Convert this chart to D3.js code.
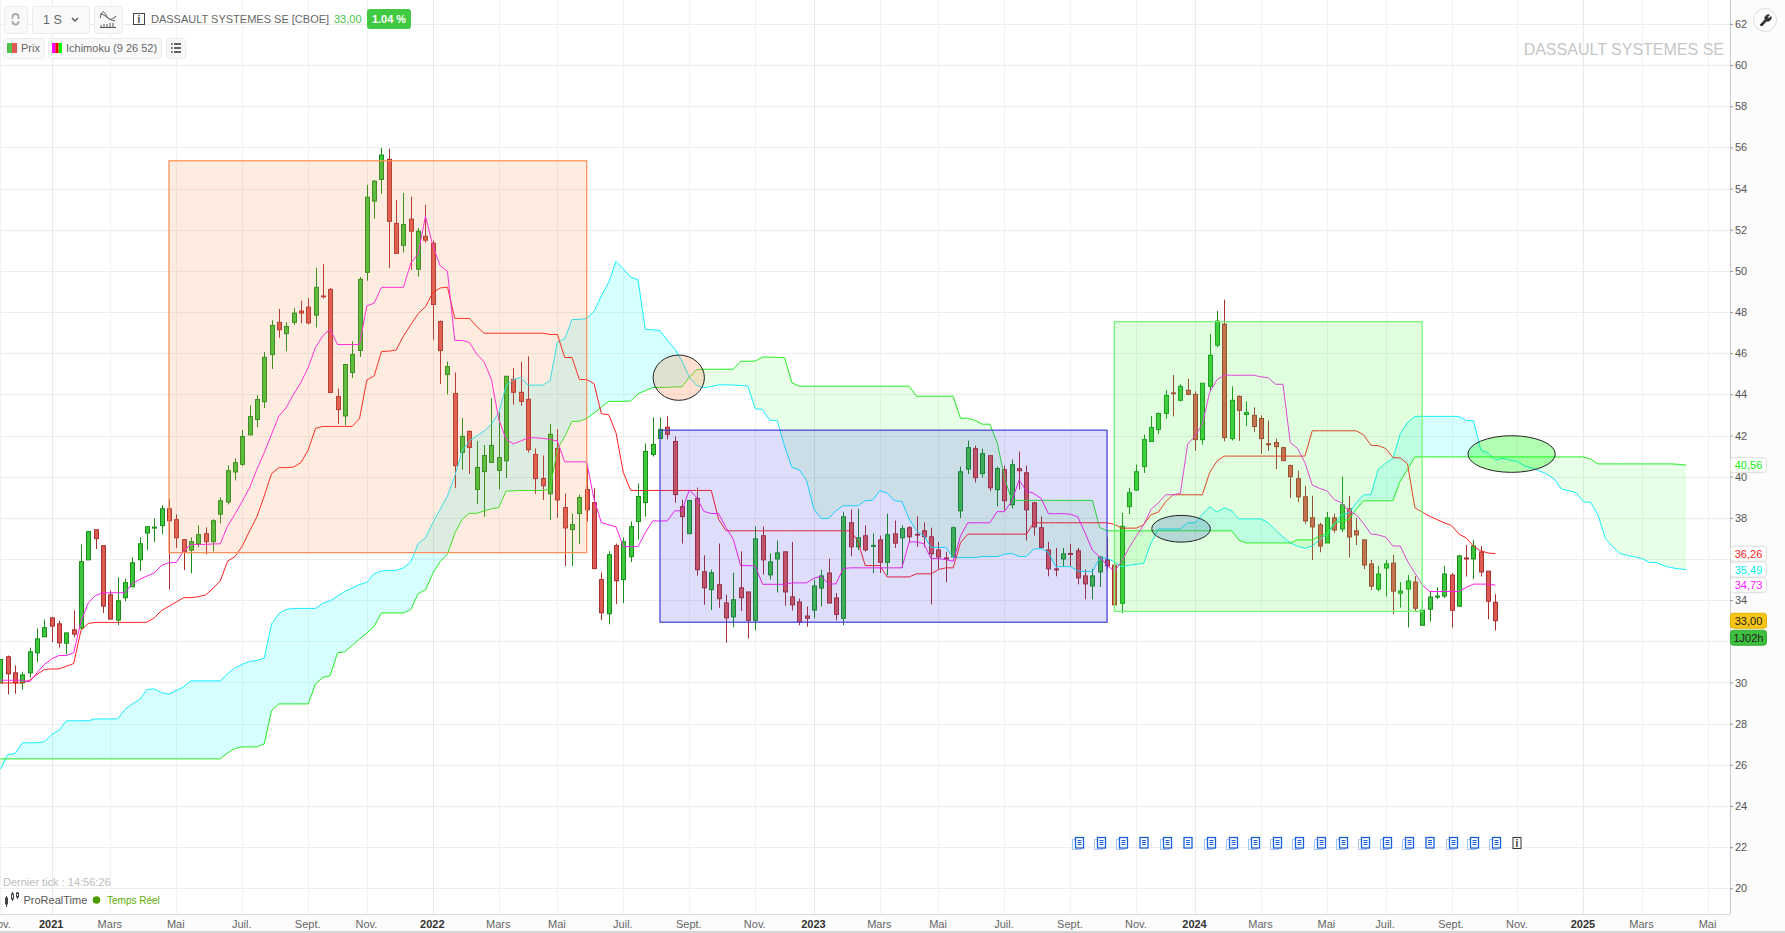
<!DOCTYPE html>
<html lang="fr">
<head>
<meta charset="utf-8">
<title>DASSAULT SYSTEMES SE</title>
<script src="https://cdn.jsdelivr.net/npm/d3@7"></script>
<style>
  html, body { margin: 0; padding: 0; background: #fff; overflow: hidden; }
  svg text { font-family: "Liberation Sans", Arial, sans-serif; }
</style>
</head>
<body>
<svg id="chart" width="1785" height="933"></svg>
<script>
// Weekly candles, first one is week -7 (week 0 = first week of 2021)
const firstWeek = -7;

const opens = [
  29.98,31.25,30.47,29.98,30.47,31.44,32.22,33.14,32.85,31.91,
  32.56,32.64,35.96,37.42,36.65,34.26,33.03,34.12,34.65,35.96,
  37.26,37.5,37.62,38.44,37.91,36.94,36.43,36.73,37.23,36.84,
  38.18,38.77,40.23,40.6,42.03,42.78,43.64,45.93,47.5,46.95,
  47.5,48.05,48.24,47.85,48.78,49.1,43.89,42.95,45.06,46.13,
  49.93,53.39,54.44,55.42,52.31,51.24,52.51,50.08,51.68,51.34,
  47.54,44.96,44.04,41.18,42.2,39.38,40.25,40.69,40.3,40.77,
  44.73,44.1,43.76,41.08,39.91,39.17,41.37,38.5,37.43,38.21,
  39.38,38.74,35.0,33.34,36.65,35.0,36.11,37.82,38.74,41.08,
  41.86,42.4,41.71,38.55,37.23,38.94,35.38,34.51,34.75,33.87,
  33.19,34.6,34.4,33.02,37.13,35.23,36.0,36.35,34.16,33.91,
  33.23,33.52,34.59,35.32,34.11,33.12,37.76,36.59,37.13,36.62,
  36.93,35.84,37.22,37.03,37.52,37.2,37.37,37.08,36.44,36.05,
  36.1,38.34,40.37,41.36,40.15,41.02,39.37,40.34,38.64,40.39,
  40.19,38.73,37.52,36.44,35.52,36.0,36.27,36.4,35.18,34.69,
  35.37,35.96,35.7,33.85,38.54,39.35,40.49,41.71,42.29,43.07,
  44.07,43.71,44.2,44.0,41.8,44.39,46.39,47.41,41.85,43.9,
  43.02,42.98,42.83,41.6,41.66,41.41,40.54,39.9,39.02,38.0,
  37.66,36.78,38.0,37.46,38.44,37.37,36.93,35.76,34.54,35.56,
  35.8,34.34,34.54,34.88,32.78,33.56,34.15,34.2,35.22,33.71,
  36.05,36.0,36.34,35.41,33.9
];
const closes = [
  31.12,30.42,29.98,30.37,31.49,32.12,32.66,32.74,31.93,32.41,
  32.35,35.87,37.33,36.99,33.71,33.08,33.97,34.85,35.82,36.74,
  37.57,37.55,38.44,37.86,37.03,36.34,36.84,37.18,36.84,37.86,
  38.83,40.29,40.68,41.95,42.92,43.75,45.8,47.35,47.14,47.3,
  47.95,47.95,47.47,49.2,48.74,44.09,43.26,45.45,45.94,49.59,
  53.58,54.36,55.63,52.41,50.85,52.25,51.93,51.93,51.49,48.37,
  46.13,45.35,40.53,41.96,41.42,40.45,41.03,41.52,40.93,44.88,
  44.1,43.66,41.31,39.91,39.56,42.06,38.87,37.51,37.67,38.99,
  38.39,35.53,33.39,36.21,34.94,36.84,37.57,39.04,41.23,41.57,
  42.3,42.06,39.13,38.06,38.84,35.48,34.6,35.33,34.07,33.14,
  34.02,34.12,33.02,36.98,35.96,35.86,36.3,34.4,33.77,32.94,
  33.12,34.69,35.18,33.86,33.31,38.05,36.59,37.03,36.44,36.66,
  35.84,37.18,36.77,37.47,37.08,37.16,37.08,36.25,36.1,36.0,
  37.52,40.24,41.41,39.95,41.12,39.46,40.39,38.83,40.58,40.29,
  38.39,37.56,36.57,35.52,35.47,36.25,36.22,35.08,34.79,35.18,
  36.1,35.67,33.77,37.59,39.22,40.24,41.8,42.39,43.07,43.95,
  44.03,44.39,44.0,41.8,44.54,45.9,47.56,41.9,43.71,43.22,
  43.12,42.44,41.85,41.55,41.46,40.78,40.0,39.02,37.85,37.56,
  36.63,38.0,37.41,38.63,37.07,37.17,35.71,34.68,35.27,35.76,
  34.44,34.44,34.93,33.61,33.51,34.15,34.2,35.27,33.51,36.15,
  36.0,36.63,35.37,33.95,33.0
];
const highs = [
  31.12,31.31,30.83,30.52,31.69,32.63,33.06,33.19,33.0,32.41,
  33.5,36.71,37.37,37.42,36.65,34.47,35.11,35.04,36.08,37.05,
  37.57,37.97,38.61,38.9,38.17,36.94,37.05,37.63,37.54,37.93,
  38.99,40.55,40.89,42.27,43.47,43.96,46.06,47.6,48.15,47.5,
  48.19,48.55,48.68,50.15,50.33,49.17,44.28,45.45,46.58,49.7,
  54.18,54.41,55.98,55.94,53.45,53.79,53.6,52.09,53.21,51.47,
  47.59,45.59,45.07,42.85,42.25,41.73,41.54,43.81,43.13,44.88,
  45.29,45.58,45.85,41.37,41.03,42.56,42.31,39.18,38.22,39.13,
  40.45,39.44,35.35,36.37,36.75,37.04,37.83,39.67,41.62,42.88,
  42.88,42.93,41.96,38.89,38.84,39.47,36.18,35.48,36.75,34.26,
  35.33,36.37,34.4,37.58,37.58,36.27,36.9,36.35,36.83,34.08,
  33.69,35.0,35.47,36.02,34.35,38.3,38.41,38.44,37.63,37.24,
  37.14,38.2,37.87,37.63,37.6,38.07,37.78,37.52,36.83,36.35,
  37.58,40.49,41.75,41.51,41.36,41.02,40.49,40.54,40.83,41.22,
  40.54,38.78,38.07,36.83,36.54,36.54,36.74,36.54,35.49,35.52,
  36.1,37.08,35.81,38.24,39.46,40.59,42.05,42.94,43.12,44.2,
  44.94,44.49,44.75,44.15,44.54,46.93,48.05,48.6,44.39,43.95,
  43.66,43.37,42.98,42.73,41.85,41.45,40.59,40.29,39.56,39.07,
  37.76,38.29,38.21,40.0,39.07,38.0,36.93,35.95,35.66,35.95,
  36.2,34.88,35.22,35.17,33.95,34.44,34.63,35.66,35.32,36.2,
  36.68,36.93,36.63,35.41,34.29
];
const lows = [
  29.98,29.42,29.46,29.66,30.24,30.99,32.22,31.96,31.7,31.36,
  32.19,32.58,35.96,36.48,33.37,33.08,32.79,33.95,34.65,35.41,
  36.43,36.82,37.2,34.52,36.53,35.46,35.3,36.57,36.22,36.37,
  37.73,38.65,39.82,40.52,42.03,42.4,43.34,45.23,46.75,46.1,
  47.37,47.45,47.4,47.25,48.66,44.09,42.56,42.49,44.8,45.82,
  49.52,52.54,53.74,50.14,50.85,50.9,50.04,49.72,51.37,46.65,
  44.5,44.0,39.46,40.33,40.14,38.68,38.05,40.69,39.39,39.93,
  43.5,43.45,41.18,39.17,38.87,37.9,38.0,35.66,35.66,36.73,
  37.83,35.53,33.03,32.83,33.81,33.86,35.85,36.93,38.05,40.98,
  41.86,41.81,38.73,36.75,37.23,35.19,33.78,33.52,33.63,31.93,
  32.69,33.47,32.14,32.53,35.24,35.0,34.38,33.73,33.5,32.78,
  32.71,33.12,33.7,33.86,33.02,32.78,36.14,36.43,36.36,35.31,
  35.32,35.21,36.54,35.57,36.79,36.59,36.57,33.8,35.52,34.87,
  36.05,37.99,40.13,39.72,39.95,39.3,38.56,38.36,38.46,39.38,
  36.9,37.14,36.54,35.16,35.16,35.62,35.62,34.77,34.04,34.04,
  34.64,35.45,33.77,33.37,38.18,39.3,40.18,41.71,42.08,42.81,
  42.93,43.66,43.95,41.25,41.56,44.15,46.29,41.72,41.76,41.74,
  42.47,42.16,41.11,41.25,40.37,40.78,38.96,38.76,37.72,35.95,
  36.33,36.78,37.27,37.32,36.08,36.68,35.51,34.49,34.44,34.18,
  33.32,33.64,32.68,33.46,32.78,32.96,34.05,34.1,32.67,33.66,
  35.15,35.02,35.15,33.07,32.52
];

// Ichimoku (9 26 52), same weeks as the candles
const tenkan = [
  30.11,30.11,30.11,30.11,30.03,30.47,30.88,31.15,31.31,31.31,
  31.44,32.98,33.87,34.23,34.36,34.36,34.36,34.36,34.81,35.01,
  35.17,35.33,35.69,35.82,35.83,36.39,36.71,36.71,36.71,36.73,
  36.74,37.6,38.17,38.81,39.46,40.36,41.17,42.06,42.95,43.36,
  44.0,44.58,45.31,46.28,46.85,47.17,46.42,46.42,46.42,46.42,
  48.3,48.43,49.2,49.2,49.2,49.2,50.38,50.82,52.66,51.23,
  50.25,49.98,46.62,46.62,46.52,45.95,45.58,44.73,42.79,41.81,
  41.6,41.73,41.89,41.89,41.86,41.81,41.73,40.72,40.72,40.72,
  40.72,38.9,37.77,37.66,37.56,36.6,36.6,36.6,37.28,37.85,
  37.85,37.85,38.34,38.34,39.36,38.99,38.31,38.21,38.21,37.53,
  36.96,35.68,35.68,35.66,34.77,34.77,34.77,34.77,34.84,34.84,
  34.84,35.07,35.16,34.79,34.79,35.54,35.57,35.57,35.57,35.57,
  35.57,35.57,35.57,35.57,36.83,36.83,36.74,36.02,36.02,35.97,
  35.89,37.11,37.76,37.76,37.76,37.76,38.3,38.3,38.81,39.84,
  39.3,39.19,38.94,38.2,38.2,38.2,38.18,38.05,37.27,36.43,
  36.1,35.7,35.4,35.89,36.54,37.11,37.67,38.41,38.73,39.12,
  39.12,39.19,41.58,41.98,42.55,44.1,44.72,44.93,44.93,44.93,
  44.93,44.93,44.85,44.81,44.49,44.49,41.66,41.37,40.68,39.59,
  39.43,39.32,38.89,38.73,38.32,38.16,37.72,37.22,37.17,37.07,
  36.63,36.63,35.89,35.32,34.75,34.42,34.42,34.42,34.42,34.42,
  34.62,34.78,34.78,34.78,34.73
];
const kijun = [
  29.98,29.98,29.98,29.98,30.11,30.39,30.63,30.66,30.66,30.79,
  30.92,32.54,32.87,32.92,32.92,32.92,32.92,32.92,32.92,32.92,
  32.93,33.14,33.5,33.71,33.91,34.12,34.12,34.17,34.25,34.57,
  34.93,35.9,36.11,36.63,37.36,38.05,39.06,40.15,40.44,40.44,
  40.47,40.68,41.3,42.35,42.44,42.44,42.44,42.44,42.44,42.82,
  44.7,44.9,46.08,46.1,46.15,46.84,47.38,47.92,48.26,48.95,
  49.17,49.21,47.69,47.69,47.69,47.3,46.97,46.97,46.97,46.97,
  46.97,46.97,46.97,46.97,46.97,46.91,46.91,45.79,45.79,44.72,
  44.72,44.52,43.06,43.01,42.13,40.2,39.33,39.33,39.33,39.33,
  39.33,39.33,39.33,39.33,39.33,39.33,39.33,39.33,37.93,37.37,
  37.37,37.37,37.37,37.37,37.37,37.37,37.37,37.37,37.37,37.37,
  37.37,37.37,37.37,37.37,37.37,37.37,37.37,36.87,35.68,35.68,
  35.68,35.13,35.13,35.13,35.13,35.28,35.28,35.28,35.49,35.57,
  35.57,36.79,37.21,37.21,37.21,37.21,37.21,37.21,37.21,37.21,
  37.21,37.76,37.76,37.76,37.76,37.76,37.76,37.76,37.76,37.76,
  37.76,37.76,37.68,37.5,37.5,37.5,37.67,38.15,38.28,38.78,
  39.12,39.12,39.12,39.12,39.12,40.2,40.76,41.0,41.0,41.0,
  41.0,41.0,41.0,41.0,41.0,41.0,41.0,41.0,41.0,42.23,
  42.23,42.23,42.23,42.23,42.23,42.23,42.03,41.53,41.51,41.37,
  40.93,40.91,40.62,38.49,38.28,38.08,37.92,37.76,37.63,37.22,
  37.02,36.62,36.4,36.29,36.26
];
// Cloud runs 26 weeks past the last candle
const senkouA = [
  25.8,26.5,26.55,27.07,27.07,27.07,27.12,27.47,27.68,28.14,
  28.14,28.14,28.14,28.23,28.23,28.23,28.23,28.69,28.96,29.17,
  29.66,29.69,29.5,29.43,29.61,29.79,30.08,30.08,30.08,30.08,
  30.08,30.42,30.71,30.88,31.02,31.07,31.18,32.84,33.35,33.55,
  33.6,33.6,33.6,33.6,33.85,33.97,34.2,34.43,34.59,34.76,
  34.87,35.29,35.42,35.44,35.45,35.57,35.86,36.75,37.03,37.76,
  38.41,39.06,40.03,41.25,41.74,41.98,42.22,42.55,43.12,44.42,
  44.71,44.82,44.45,44.45,44.45,44.66,46.55,46.7,47.64,47.64,
  47.69,48.03,48.79,49.44,50.46,50.09,49.69,49.57,47.15,47.14,
  47.1,46.62,46.22,45.62,44.84,44.43,44.32,44.38,44.46,44.46,
  44.45,44.43,44.4,43.3,43.26,42.74,42.73,41.48,40.45,40.34,
  39.81,38.43,37.97,37.97,38.34,38.59,38.59,38.59,38.83,38.85,
  39.32,39.2,38.83,38.8,37.94,37.37,37.13,36.56,36.56,36.56,
  36.07,36.07,36.07,36.07,36.12,36.12,36.12,36.23,36.27,36.12,
  36.12,36.48,36.51,36.32,35.63,35.63,35.63,35.42,35.39,35.39,
  36.05,36.05,35.85,35.62,35.7,35.75,35.79,36.78,37.46,37.46,
  37.46,37.46,37.76,37.76,38.16,38.54,38.28,38.49,38.34,37.95,
  37.95,37.95,37.95,37.76,37.4,37.07,36.78,36.62,36.52,36.62,
  36.94,37.19,37.67,38.16,38.24,38.73,39.12,39.12,40.36,40.65,
  40.88,42.07,42.63,42.93,42.93,42.93,42.93,42.93,42.93,42.93,
  42.73,42.72,41.3,41.15,40.81,40.89,40.81,40.73,40.52,40.41,
  40.28,40.13,39.89,39.4,39.32,39.22,38.78,38.75,38.13,37.0,
  36.59,36.27,36.17,36.1,36.02,35.83,35.83,35.67,35.58,35.52,
  35.49
];
const senkouB = [
  26.29,26.29,26.29,26.29,26.29,26.29,26.29,26.29,26.29,26.29,
  26.29,26.29,26.29,26.29,26.29,26.29,26.29,26.29,26.29,26.29,
  26.29,26.29,26.29,26.29,26.29,26.29,26.29,26.29,26.29,26.29,
  26.29,26.58,26.79,26.87,26.87,26.87,27.02,28.64,28.96,28.96,
  28.96,28.96,28.96,29.93,30.24,30.34,31.44,31.5,31.8,32.11,
  32.4,32.73,33.38,33.38,33.38,33.38,33.54,34.32,34.5,35.3,
  35.88,36.23,37.25,37.93,38.22,38.22,38.33,38.44,38.5,39.3,
  39.31,39.33,39.33,39.33,39.33,39.39,41.34,41.95,42.69,42.69,
  42.83,43.09,43.37,43.66,43.66,43.66,43.68,44.02,44.18,44.33,
  44.34,44.34,44.36,44.36,44.83,45.2,45.22,45.22,45.22,45.22,
  45.22,45.6,45.61,45.62,45.81,45.81,45.8,45.78,44.56,44.4,
  44.4,44.4,44.4,44.4,44.4,44.4,44.4,44.4,44.4,44.4,
  44.4,44.4,44.4,44.4,44.4,43.91,43.91,43.91,43.91,43.91,
  43.91,42.84,42.84,42.73,42.55,42.55,41.67,39.97,38.85,38.85,
  38.85,38.85,38.85,38.85,38.85,38.85,38.85,38.85,38.85,38.85,
  37.53,37.37,37.37,37.37,37.37,37.37,37.37,37.37,37.37,37.37,
  37.37,37.37,37.37,37.37,37.37,37.37,37.37,37.37,37.37,36.91,
  36.78,36.78,36.78,36.78,36.78,36.78,36.78,36.93,36.93,36.93,
  37.11,37.22,37.76,37.84,37.92,38.41,38.83,38.83,38.83,38.83,
  38.83,39.79,40.36,40.96,40.96,40.96,40.96,40.96,40.96,40.96,
  40.96,40.96,40.96,40.96,40.96,40.96,40.96,40.96,40.96,40.96,
  40.96,40.96,40.96,40.96,40.96,40.96,40.96,40.86,40.62,40.62,
  40.62,40.62,40.62,40.62,40.62,40.62,40.62,40.62,40.62,40.6,
  40.56
];

// Time axis: week index and label of each tick
const xTickWeeks = [-7,0,8,17,26,35,43,52,61,69,78,87,96,104,113,121,130,139,148,156,165,174,182,191,200,209,217,226];
const xTickLabels = ["Nov.","2021","Mars","Mai","Juil.","Sept.","Nov.","2022","Mars","Mai","Juil.","Sept.","Nov.","2023","Mars","Mai","Juil.","Sept.","Nov.","2024","Mars","Mai","Juil.","Sept.","Nov.","2025","Mars","Mai"];
const yTicks = d3.range(20, 64, 2);
// these two prices sit behind the value tags
const yHiddenLabels = [32, 36];

// Drawn zones: week range and price range
const zoneWeeks = [[16,73],[83,144],[145,187]];
const zonePrices = [[36.31,55.35],[32.93,42.26],[33.45,47.53]];
const zoneFills = ["#ff8c50","#3c3ce0","#40ff40"];
const zoneStrokes = ["#ff8c50","#3c3cd8","#70f870"];
// Drawn ellipses: centre week, centre price, half width in weeks, half height in price
const ellipseCentres = [[85.56,44.81],[154.1,37.47],[199.2,41.1]];
const ellipseRadii = [[3.5,1.1],[4,0.65],[5.96,0.89]];
const ellipseFills = ["rgba(255,130,70,0.25)","rgba(50,90,190,0.24)","rgba(0,255,0,0.3)"];

// News markers
const newsWeeks = [140,143,146,149,152,155,158,161,164,167,170,173,176,179,182,185,188,191,194,197];
const newsSingle = [149,155,188];
const infoWeek = 200;

// Last value tags
const tagValues = [40.56,36.26,35.49,34.73];
const tagLabels = ["40,56","36,26","35,49","34,73"];
const tagColors = ["#10f010","#ff2020","#00f0f0","#ff20ff"];

const plotRight = 1730, plotBottom = 914;
const svg = d3.select("#chart");
const x = d3.scaleLinear().domain([0, 156]).range([51.7, 1195]);
const y = d3.scaleLinear().domain([20, 62]).range([888.3, 23.9]);

const weeks = opens.map((d, i) => i + firstWeek);
const cloudRows = senkouA.map((a, i) => ({ week: i + firstWeek, a, b: senkouB[i] }));

svg.append("defs").append("clipPath").attr("id", "plot-clip")
  .append("rect").attr("width", plotRight).attr("height", plotBottom);

// Grid
const grid = svg.append("g").attr("shape-rendering", "crispEdges");
grid.selectAll("line.h").data(yTicks).join("line")
  .attr("class", "h")
  .attr("x1", 0).attr("x2", plotRight)
  .attr("y1", d => Math.round(y(d)) + 0.5).attr("y2", d => Math.round(y(d)) + 0.5)
  .attr("stroke", "#ededed");
grid.selectAll("line.v").data(xTickWeeks).join("line")
  .attr("class", "v")
  .attr("y1", 0).attr("y2", plotBottom)
  .attr("x1", d => Math.round(x(d)) + 0.5).attr("x2", d => Math.round(x(d)) + 0.5)
  .attr("stroke", (d, i) => /^20/.test(xTickLabels[i]) ? "#e9e9e9" : "#f1f1f1");

const plot = svg.append("g").attr("clip-path", "url(#plot-clip)");

// Kumo
const cyanArea = d3.area().x(d => x(d.week)).y0(d => y(Math.min(d.a, d.b))).y1(d => y(d.a));
const greenArea = d3.area().x(d => x(d.week)).y0(d => y(Math.min(d.a, d.b))).y1(d => y(d.b));
plot.append("path").attr("d", cyanArea(cloudRows)).attr("fill", "rgba(0,255,255,0.16)");
plot.append("path").attr("d", greenArea(cloudRows)).attr("fill", "rgba(0,255,0,0.09)");

// Candles
const upColor = { fill: "#3fc63f", stroke: "#178f17" };
const downColor = { fill: "#dc5a52", stroke: "#a92f2f" };
const candleG = plot.selectAll("g.candle").data(weeks).join("g").attr("class", "candle");
candleG.append("line")
  .attr("x1", d => Math.round(x(d)) + 0.5).attr("x2", d => Math.round(x(d)) + 0.5)
  .attr("y1", (d, i) => y(highs[i])).attr("y2", (d, i) => y(lows[i]))
  .attr("stroke", (d, i) => closes[i] >= opens[i] ? upColor.stroke : downColor.stroke)
  .attr("stroke-width", 1);
candleG.append("rect")
  .attr("x", d => Math.round(x(d)) - 1.5).attr("width", 4)
  .attr("y", (d, i) => y(Math.max(opens[i], closes[i])))
  .attr("height", (d, i) => Math.max(0.6, Math.abs(y(opens[i]) - y(closes[i]))))
  .attr("fill", (d, i) => closes[i] >= opens[i] ? upColor.fill : downColor.fill)
  .attr("stroke", (d, i) => closes[i] >= opens[i] ? upColor.stroke : downColor.stroke)
  .attr("stroke-width", 1);

// Ichimoku lines
const drawLine = (values, color) => plot.append("path")
  .attr("d", d3.line().x((d, i) => x(i + firstWeek)).y(d => y(d))(values))
  .attr("fill", "none").attr("stroke", color).attr("stroke-width", 1);
drawLine(senkouA, "#14eeff");
drawLine(senkouB, "#22ee22");
drawLine(kijun, "#ff1f1f");
drawLine(tenkan, "#ff20f0");

// Zones sit over everything, candles show through
plot.selectAll("rect.zone").data(zoneWeeks).join("rect")
  .attr("class", "zone")
  .attr("x", d => x(d[0])).attr("width", d => x(d[1]) - x(d[0]))
  .attr("y", (d, i) => y(zonePrices[i][1]))
  .attr("height", (d, i) => y(zonePrices[i][0]) - y(zonePrices[i][1]))
  .attr("fill", (d, i) => zoneFills[i]).attr("fill-opacity", 0.17)
  .attr("stroke", (d, i) => zoneStrokes[i]).attr("stroke-width", 1.2);
plot.selectAll("ellipse").data(ellipseCentres).join("ellipse")
  .attr("cx", d => x(d[0])).attr("cy", d => y(d[1]))
  .attr("rx", (d, i) => x(ellipseRadii[i][0]) - x(0))
  .attr("ry", (d, i) => y(0) - y(ellipseRadii[i][1]))
  .attr("fill", (d, i) => ellipseFills[i])
  .attr("stroke", "#222").attr("stroke-width", 1);

// News markers
const news = svg.append("g").selectAll("g").data(newsWeeks).join("g")
  .attr("transform", d => `translate(${Math.round(x(d)) + (newsSingle.includes(d) ? -1.5 : 0)},843)`);
news.filter(d => !newsSingle.includes(d)).append("rect")
  .attr("x", -5.5).attr("y", -3.5).attr("width", 8).attr("height", 10)
  .attr("fill", "#fff").attr("stroke", "#a9c4f0");
news.append("rect")
  .attr("x", -2.5).attr("y", -5.5).attr("width", 8).attr("height", 10.5)
  .attr("fill", "#fff").attr("stroke", "#1a5fd8").attr("stroke-width", 1.3);
news.append("path").attr("d", "M-.5-2.500H3.500M-.5-.5H3.500M-.5 1.500H3.500")
  .attr("stroke", "#1a5fd8").attr("stroke-width", 1.1);
const info = svg.append("g").attr("transform", `translate(${Math.round(x(infoWeek))},843)`);
info.append("rect").attr("x", -4).attr("y", -5.5).attr("width", 8).attr("height", 11)
  .attr("fill", "#fff").attr("stroke", "#333");
info.append("text").attr("y", 4).attr("text-anchor", "middle")
  .attr("font-size", 10).attr("font-weight", "bold").attr("fill", "#333").text("i");

// Axis strips
svg.append("rect").attr("x", plotRight).attr("width", 1785 - plotRight).attr("height", 933).attr("fill", "#fcfcfc");
svg.append("rect").attr("y", plotBottom).attr("width", 1785).attr("height", 933 - plotBottom).attr("fill", "#fcfcfc");
svg.append("line").attr("x1", plotRight + 0.5).attr("x2", plotRight + 0.5).attr("y1", 0).attr("y2", plotBottom)
  .attr("stroke", "#c8c8c8");
svg.append("line").attr("x1", 0).attr("x2", plotRight).attr("y1", plotBottom + 0.5).attr("y2", plotBottom + 0.5)
  .attr("stroke", "#dcdcdc");
svg.append("rect").attr("y", 931).attr("width", 1785).attr("height", 2).attr("fill", "#d4d4d4");

const yAxis = d3.axisRight(y).tickValues(yTicks).tickSize(3).tickPadding(2)
  .tickFormat(d => yHiddenLabels.includes(d) ? "" : d3.format("d")(d));
const yAxisG = svg.append("g").attr("transform", `translate(${plotRight},0)`).call(yAxis);
yAxisG.select(".domain").remove();
yAxisG.selectAll("line").attr("stroke", "#999");
yAxisG.selectAll("text").attr("font-size", 11).attr("fill", "#555")
  .style("font-family", '"Liberation Sans", Arial, sans-serif');

const xAxis = d3.axisBottom(x).tickValues(xTickWeeks).tickSize(0).tickPadding(6)
  .tickFormat((d, i) => xTickLabels[i]);
const xAxisG = svg.append("g").attr("transform", `translate(-1,${plotBottom})`).call(xAxis);
xAxisG.select(".domain").remove();
xAxisG.selectAll("text").attr("font-size", 11)
  .attr("font-weight", (d, i) => /^20/.test(xTickLabels[i]) ? "bold" : "normal")
  .attr("fill", (d, i) => /^20/.test(xTickLabels[i]) ? "#333" : "#666")
  .style("font-family", '"Liberation Sans", Arial, sans-serif');

// Last value tags
const tags = svg.selectAll("g.tag").data(tagValues).join("g").attr("class", "tag")
  .attr("transform", d => `translate(${plotRight},${y(d)})`);
tags.append("rect").attr("x", 0.5).attr("y", -7.5).attr("width", 36).attr("height", 15).attr("rx", 3)
  .attr("fill", "#fff").attr("stroke", "#ddd");
tags.append("text").attr("x", 18.5).attr("y", 4).attr("text-anchor", "middle")
  .attr("font-size", 11).attr("fill", (d, i) => tagColors[i]).text((d, i) => tagLabels[i]);

const lastClose = closes[closes.length - 1];
const priceTag = svg.append("g").attr("transform", `translate(${plotRight},${y(lastClose)})`);
priceTag.append("rect").attr("x", 0.5).attr("y", -7.5).attr("width", 36).attr("height", 15).attr("rx", 3)
  .attr("fill", "#f6c416").attr("stroke", "#e6b000");
priceTag.append("text").attr("x", 18.5).attr("y", 4).attr("text-anchor", "middle")
  .attr("font-size", 11).attr("fill", "#222").text("33,00");
priceTag.append("rect").attr("x", 0.5).attr("y", 9.5).attr("width", 36).attr("height", 15).attr("rx", 3)
  .attr("fill", "#3fbf3f").attr("stroke", "#34ab34");
priceTag.append("text").attr("x", 18.5).attr("y", 21).attr("text-anchor", "middle")
  .attr("font-size", 11).attr("fill", "#222").text("1J02h");

// Header
const header = svg.append("g");
const button = (bx, by, bw, bh) => header.append("rect")
  .attr("x", bx + 0.5).attr("y", by + 0.5).attr("width", bw).attr("height", bh).attr("rx", 3)
  .attr("fill", "#f9f9f9").attr("stroke", "#ececec");
const label = (tx, ty, text, size, color, weight) => header.append("text")
  .attr("x", tx).attr("y", ty).attr("font-size", size).attr("fill", color)
  .attr("font-weight", weight || "normal").text(text);

button(4, 6, 23, 27);
header.append("path").attr("d", "M12.500 19v-2a3 3 0 0 1 6 0v2M12.500 21v.5a3 3 0 0 0 6 0v-.5")
  .attr("fill", "none").attr("stroke", "#aaa").attr("stroke-width", 1.8);
button(32, 6, 57, 27);
label(43, 24, "1 S", 12.5, "#666");
header.append("path").attr("d", "M72 18l3 3 3-3").attr("fill", "none").attr("stroke", "#555").attr("stroke-width", 1.4);
button(94, 6, 28, 27);
header.append("path").attr("d", "M100 18c2-8 4-7 6-3s4 7 10 1M100 14c5 0 8 6 15 7")
  .attr("fill", "none").attr("stroke", "#555");
header.append("path").attr("d", "M100 27.500h16M101 27v-2M104 27v-3M107 27v-3M110 27v-4M113 27v-4")
  .attr("stroke", "#555").attr("fill", "none");
header.append("rect").attr("x", 133.5).attr("y", 13.5).attr("width", 11).attr("height", 11)
  .attr("fill", "#fff").attr("stroke", "#444");
header.append("text").attr("x", 139).attr("y", 23).attr("text-anchor", "middle").attr("font-size", 10)
  .attr("font-weight", "bold").attr("fill", "#444").text("i");
label(151, 23, "DASSAULT SYSTEMES SE [CBOE]", 11, "#666");
label(334, 23, "33,00", 11, "#44c444");
header.append("rect").attr("x", 367).attr("y", 9).attr("width", 44).attr("height", 20).attr("rx", 3).attr("fill", "#42c942");
header.append("text").attr("x", 389).attr("y", 23).attr("text-anchor", "middle")
  .attr("font-size", 11).attr("font-weight", "bold").attr("fill", "#fff").text("1.04 %");

button(3, 38, 41, 20);
header.append("rect").attr("x", 7).attr("y", 43).attr("width", 5).attr("height", 10).attr("fill", "#4fc44f");
header.append("rect").attr("x", 12).attr("y", 43).attr("width", 5).attr("height", 10).attr("fill", "#e05a52");
label(21, 52, "Prix", 11, "#666");
button(48, 38, 113, 20);
header.append("rect").attr("x", 52).attr("y", 43).attr("width", 3.4).attr("height", 10).attr("fill", "#ff00ff");
header.append("rect").attr("x", 55.4).attr("y", 43).attr("width", 3.3).attr("height", 10).attr("fill", "#ff0000");
header.append("rect").attr("x", 58.7).attr("y", 43).attr("width", 3.3).attr("height", 10).attr("fill", "#00ff00");
label(66, 52, "Ichimoku (9 26 52)", 11, "#666");
button(166, 38, 19, 20);
header.append("path").attr("d", "M171 44h1.600M171 48h1.600M171 52h1.600M174 44h7M174 48h7M174 52h7")
  .attr("stroke", "#333").attr("stroke-width", 1.5);

// Watermark and wrench
svg.append("text").attr("x", 1724).attr("y", 55).attr("text-anchor", "end")
  .attr("font-size", 16).attr("fill", "#c6c6c6").text("DASSAULT SYSTEMES SE");
svg.append("circle").attr("cx", 1765).attr("cy", 20).attr("r", 11.5).attr("fill", "#fcfcfc").attr("stroke", "#dcdcdc");
svg.append("path").attr("d", "M1760 25l5-5.500a3.500 3.500 0 0 1 4.500-4.500l-2 2 1.500 1.500 2-2a3.500 3.500 0 0 1-4.500 4.500l-4.500 5z")
  .attr("fill", "#333").attr("stroke", "#333").attr("stroke-width", 0.8);

// Footer notes
svg.append("text").attr("x", 3).attr("y", 886).attr("font-size", 11).attr("fill", "#bcbcbc").text("Dernier tick : 14:56:26");
const logo = svg.append("g").attr("stroke", "#444").attr("fill", "none");
logo.append("path").attr("d", "M6.500 896v11M12.500 892v9M17.500 892v7");
logo.append("rect").attr("x", 5.5).attr("y", 898).attr("width", 2).attr("height", 6).attr("fill", "#444");
logo.append("rect").attr("x", 11.5).attr("y", 894).attr("width", 2).attr("height", 5).attr("fill", "#fff");
logo.append("rect").attr("x", 16.5).attr("y", 893).attr("width", 2).attr("height", 4).attr("fill", "#fff");
svg.append("text").attr("x", 23.5).attr("y", 904).attr("font-size", 11).attr("fill", "#555").text("ProRealTime");
svg.append("circle").attr("cx", 96.5).attr("cy", 900).attr("r", 3.8).attr("fill", "#4c9a00");
svg.append("text").attr("x", 107).attr("y", 904).attr("font-size", 10).attr("fill", "#5aae00").text("Temps Réel");
</script>
</body>
</html>
